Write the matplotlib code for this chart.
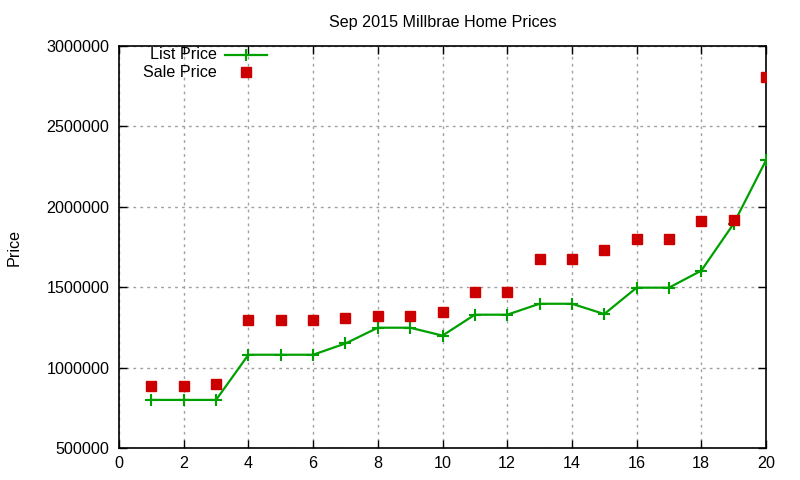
import matplotlib
matplotlib.use("Agg")
import matplotlib.pyplot as plt
from matplotlib.lines import Line2D

plt.rcParams['font.family'] = ['Liberation Sans', 'DejaVu Sans']

x_vals = list(range(1, 21))
list_price = [799000, 799000, 799000, 1080000, 1080000, 1080000, 1150000, 1248000, 1248000, 1199000,
              1329000, 1329000, 1397000, 1397000, 1333000, 1497000, 1497000, 1603000, 1895000, 2289000]
sale_price = [888000, 888000, 899000, 1298000, 1298000, 1298000, 1310000, 1321000, 1321000, 1346000,
              1472000, 1472000, 1675000, 1675000, 1731000, 1802000, 1802000, 1914000, 1920000, 2810000]
x_ticks = list(range(0, 21, 2))
y_ticks = list(range(500000, 3000001, 500000))
title = "Sep 2015 Millbrae Home Prices"

green = '#00a000'
red = '#cc0000'
fs = 11.6

fig = plt.figure(figsize=(8, 4.8), dpi=100)
ax = fig.add_axes([119/800, 1-448/480, (766-119)/800, (448-46)/480])

ax.plot(x_vals, list_price, color=green, lw=1.6, marker='+', ms=8, mew=1.5, zorder=3)
ax.plot(x_vals, sale_price, ls='none', color=red, marker='s', ms=6.5, zorder=3)

ax.set_xlim(0, 20)
ax.set_ylim(500000, 3000000)
ax.set_xticks(x_ticks)
ax.set_yticks(y_ticks)
ax.set_xticklabels([str(t) for t in x_ticks])
ax.set_yticklabels([str(t) for t in y_ticks])
ax.tick_params(direction='in', length=6, width=1, top=True, right=True, labelsize=fs, pad=7)
ax.tick_params(axis='x', pad=6)
ax.grid(True, color='#a0a0a0', ls=(0, (2, 3)), lw=1)
for s in ax.spines.values():
    s.set_linewidth(1.2)

ax.set_title(title, fontsize=fs, pad=14)
ax.set_ylabel("Price", fontsize=fs, labelpad=18)

# gnuplot-style key (text right-justified, sample to the right)
tr = ax.transAxes
ax.text(0.1515, 0.978, "List Price", transform=tr, ha='right', va='center', fontsize=fs)
ax.text(0.1515, 0.935, "Sale Price", transform=tr, ha='right', va='center', fontsize=fs)
ax.add_line(Line2D([0.1638, 0.2287], [0.978, 0.978], transform=tr, color=green, lw=1.6))
ax.add_line(Line2D([0.1963], [0.978], transform=tr, color=green, marker='+', ms=8, mew=1.5))
ax.add_line(Line2D([0.1963], [0.935], transform=tr, color=red, marker='s', ms=6.5, ls='none'))

fig.savefig("out.png", dpi=100)
